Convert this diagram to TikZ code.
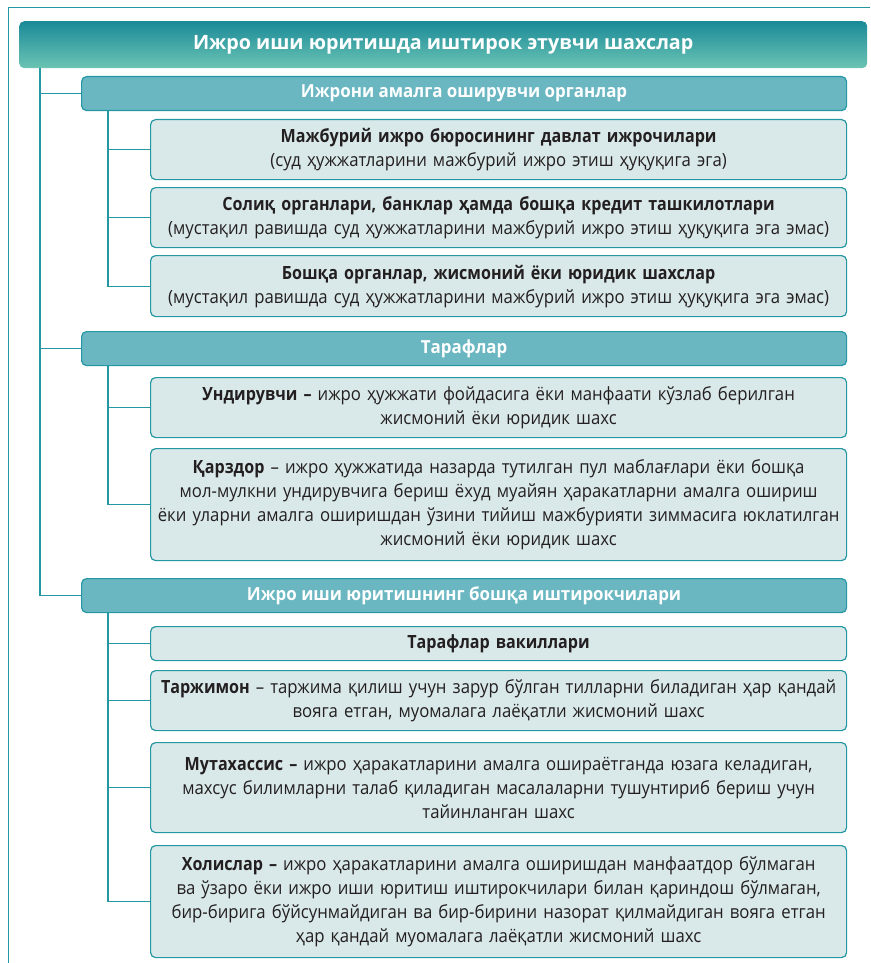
\documentclass[tikz,border=0pt]{standalone}
\usepackage{fontspec}
\setmainfont{Open Sans}
\newfontfamily\condfont[FakeStretch=0.92, BoldFeatures={FakeStretch=0.885}]{Open Sans}
\usetikzlibrary{positioning}
\definecolor{tealline}{HTML}{2497A3}
\definecolor{hdrtop}{HTML}{1A8A98}
\definecolor{hdrbot}{HTML}{6CC4B4}
\definecolor{grpfill}{HTML}{6AB7C2}
\definecolor{itemfill}{HTML}{D9E8E8}
\definecolor{txtdark}{HTML}{231F20}
\tikzset{
  hdrbox/.style={anchor=north west, rounded corners=5pt, top color=hdrtop, bottom color=hdrbot,
    text=white, font=\bfseries\fontsize{19.7}{24}\selectfont, minimum width=848pt, minimum height=47pt},
  grpbox/.style={anchor=north west, rounded corners=5pt, fill=grpfill, draw=tealline, line width=1.2pt,
    text=white, font=\bfseries\fontsize{18}{22}\selectfont\addfontfeatures{FakeStretch=0.94}, minimum width=765pt, minimum height=34pt},
  itembox/.style={anchor=north west, rounded corners=5pt, fill=itemfill, draw=tealline, line width=1.2pt,
    text=txtdark, font=\condfont\fontsize{18.2}{24}\selectfont, align=center, text width=694pt,
    inner xsep=1pt, minimum height=#1},
  wire/.style={draw=tealline, line width=1.2pt},
}
\begin{document}
\begin{tikzpicture}[x=1pt, y=-1pt]
	\useasboundingbox (0,0) rectangle (870,963);
	% outer frame
	\draw[wire] (8.5,963) |- (870,7.5);
	% Nodes:
	\node[hdrbox] (top) at (19,21) {Ижро иши юритишда иштирок этувчи шахслар};
	\node[grpbox] (org) at (81,76) {Ижрони амалга оширувчи органлар};
	\node[itembox=60pt] (org1) at (150,119) {\textbf{Мажбурий ижро бюросининг давлат ижрочилари}\\(суд ҳужжатларини мажбурий ижро этиш ҳуқуқига эга)};
	\node[itembox=60pt] (org2) at (150,187) {\textbf{Солиқ органлари, банклар ҳамда бошқа кредит ташкилотлари}\\(мустақил равишда суд ҳужжатларини мажбурий ижро этиш ҳуқуқига эга эмас)};
	\node[itembox=61pt] (org3) at (150,255) {\textbf{Бошқа органлар, жисмоний ёки юридик шахслар}\\(мустақил равишда суд ҳужжатларини мажбурий ижро этиш ҳуқуқига эга эмас)};
	\node[grpbox] (side) at (81,331) {Тарафлар};
	\node[itembox=60pt] (side1) at (150,377) {\textbf{Ундирувчи –} ижро ҳужжати фойдасига ёки манфаати кўзлаб берилган\\жисмоний ёки юридик шахс};
	\node[itembox=112pt] (side2) at (150,448) {\textbf{Қарздор} – ижро ҳужжатида назарда тутилган пул маблағлари ёки бошқа\\мол-мулкни ундирувчига бериш ёхуд муайян ҳаракатларни амалга ошириш\\ёки уларни амалга оширишдан ўзини тийиш мажбурияти зиммасига юклатилган\\жисмоний ёки юридик шахс};
	\node[grpbox] (part) at (81,578) {Ижро иши юритишнинг бошқа иштирокчилари};
	\node[itembox=34pt] (part1) at (150,626) {\textbf{Тарафлар вакиллари}};
	\node[itembox=60pt] (part2) at (150,670) {\textbf{Таржимон} – таржима қилиш учун зарур бўлган тилларни биладиган ҳар қандай\\вояга етган, муомалага лаёқатли жисмоний шахс};
	\node[itembox=90pt] (part3) at (150,742) {\textbf{Мутахассис –} ижро ҳаракатларини амалга ошираётганда юзага келадиган,\\махсус билимларни талаб қиладиган масалаларни тушунтириб бериш учун\\тайинланган шахс};
	\node[itembox=112pt] (part4) at (150,845) {\textbf{Холислар –} ижро ҳаракатларини амалга оширишдан манфаатдор бўлмаган\\ва ўзаро ёки ижро иши юритиш иштирокчилари билан қариндош бўлмаган,\\бир-бирига бўйсунмайдиган ва бир-бирини назорат қилмайдиган вояга етган\\ҳар қандай муомалага лаёқатли жисмоний шахс};
	% Wires:
	\coordinate (topspine) at ([xshift=21pt]top.south west);
	\draw[wire] (topspine) |- (part.west);
	\foreach \g in {org, side} {
		\draw[wire] (topspine |- \g.west) -- (\g.west);
	}
	\foreach \g/\last in {org/org3, side/side2, part/part4} {
		\coordinate (\g spine) at ([xshift=27pt]\g.south west);
		\draw[wire] (\g spine) |- (\last.west);
	}
	\foreach \g/\k in {org/org1, org/org2, side/side1, part/part1, part/part2, part/part3} {
		\draw[wire] (\g spine |- \k.west) -- (\k.west);
	}
\end{tikzpicture}
\end{document}
